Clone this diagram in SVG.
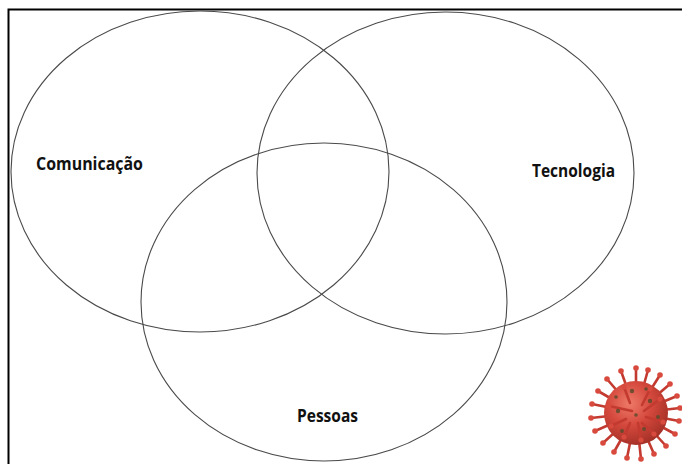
<svg xmlns="http://www.w3.org/2000/svg" width="682" height="464" viewBox="0 0 682 464">
  <style>
    .set { fill: none; stroke: #4a4a4a; stroke-width: 1.1; }
    .lbl { font-family: "Open Sans", "Noto Sans", sans-serif; font-weight: bold; font-size: 17px; fill: #111; }
    .spike { stroke: #c23a30; stroke-width: 2.6; stroke-linecap: round; }
    .tip { fill: #d84a3e; }
    .spot { fill: #5e4a2c; opacity: 0.85; }
  </style>
  <defs>
    <radialGradient id="bodyGrad" cx="0.4" cy="0.35" r="0.7">
      <stop offset="0" stop-color="#ee7a68"/>
      <stop offset="0.5" stop-color="#d4483c"/>
      <stop offset="1" stop-color="#a02e25"/>
    </radialGradient>
  </defs>

  <rect x="0" y="0" width="682" height="464" fill="#ffffff"/>
  <!-- frame, open past the right and bottom edges -->
  <path d="M8.5 470 V9.5 H690" fill="none" stroke="#000" stroke-width="2"/>

  <g id="comunicacao">
    <ellipse class="set" cx="200" cy="171.5" rx="189" ry="160.5"/>
    <text class="lbl" x="36" y="170" textLength="107" lengthAdjust="spacingAndGlyphs">Comunicação</text>
  </g>
  <g id="tecnologia">
    <ellipse class="set" cx="445.5" cy="173" rx="188.5" ry="161"/>
    <text class="lbl" x="532" y="177" textLength="83" lengthAdjust="spacingAndGlyphs">Tecnologia</text>
  </g>
  <g id="pessoas">
    <ellipse class="set" cx="324" cy="302" rx="183" ry="159"/>
    <text class="lbl" x="297" y="421.5" textLength="61" lengthAdjust="spacingAndGlyphs">Pessoas</text>
  </g>

  <!-- virus illustration -->
  <g id="virus" transform="translate(636 413)">
    <g id="spikes">
      <line class="spike" x1="0" y1="0" x2="0" y2="-45"/>
      <line class="spike" x1="0" y1="0" x2="12" y2="-43"/>
      <line class="spike" x1="0" y1="0" x2="24" y2="-38"/>
      <line class="spike" x1="0" y1="0" x2="34" y2="-29"/>
      <line class="spike" x1="0" y1="0" x2="41" y2="-17"/>
      <line class="spike" x1="0" y1="0" x2="44" y2="-5"/>
      <line class="spike" x1="0" y1="0" x2="43" y2="8"/>
      <line class="spike" x1="0" y1="0" x2="39" y2="21"/>
      <line class="spike" x1="0" y1="0" x2="30" y2="33"/>
      <line class="spike" x1="0" y1="0" x2="18" y2="41"/>
      <line class="spike" x1="0" y1="0" x2="5" y2="46"/>
      <line class="spike" x1="0" y1="0" x2="-9" y2="45"/>
      <line class="spike" x1="0" y1="0" x2="-22" y2="39"/>
      <line class="spike" x1="0" y1="0" x2="-33" y2="30"/>
      <line class="spike" x1="0" y1="0" x2="-41" y2="18"/>
      <line class="spike" x1="0" y1="0" x2="-45" y2="5"/>
      <line class="spike" x1="0" y1="0" x2="-44" y2="-9"/>
      <line class="spike" x1="0" y1="0" x2="-38" y2="-22"/>
      <line class="spike" x1="0" y1="0" x2="-29" y2="-34"/>
      <line class="spike" x1="0" y1="0" x2="-15" y2="-42"/>
      <circle class="tip" cx="0" cy="-45" r="2.8"/>
      <circle class="tip" cx="12" cy="-43" r="2.8"/>
      <circle class="tip" cx="24" cy="-38" r="2.8"/>
      <circle class="tip" cx="34" cy="-29" r="2.8"/>
      <circle class="tip" cx="41" cy="-17" r="2.8"/>
      <circle class="tip" cx="44" cy="-5" r="2.8"/>
      <circle class="tip" cx="43" cy="8" r="2.8"/>
      <circle class="tip" cx="39" cy="21" r="2.8"/>
      <circle class="tip" cx="30" cy="33" r="2.8"/>
      <circle class="tip" cx="18" cy="41" r="2.8"/>
      <circle class="tip" cx="5" cy="46" r="2.8"/>
      <circle class="tip" cx="-9" cy="45" r="2.8"/>
      <circle class="tip" cx="-22" cy="39" r="2.8"/>
      <circle class="tip" cx="-33" cy="30" r="2.8"/>
      <circle class="tip" cx="-41" cy="18" r="2.8"/>
      <circle class="tip" cx="-45" cy="5" r="2.8"/>
      <circle class="tip" cx="-44" cy="-9" r="2.8"/>
      <circle class="tip" cx="-38" cy="-22" r="2.8"/>
      <circle class="tip" cx="-29" cy="-34" r="2.8"/>
      <circle class="tip" cx="-15" cy="-42" r="2.8"/>
    </g>
    <circle cx="0" cy="0" r="32" fill="url(#bodyGrad)"/>
    <g id="inner-spikes">
      <line class="spike" x1="-6" y1="-10" x2="-12" y2="-26"/>
      <line class="spike" x1="6" y1="-8" x2="14" y2="-24"/>
      <line class="spike" x1="10" y1="4" x2="27" y2="9"/>
      <line class="spike" x1="-10" y1="6" x2="-25" y2="13"/>
      <line class="spike" x1="2" y1="10" x2="5" y2="27"/>
      <line class="spike" x1="-4" y1="-2" x2="-27" y2="-7"/>
      <line class="spike" x1="8" y1="-2" x2="24" y2="-14"/>
      <line class="spike" x1="6" y1="10" x2="18" y2="21"/>
      <line class="spike" x1="-6" y1="10" x2="-12" y2="24"/>
      <circle class="tip" cx="-12" cy="-26" r="2.6"/>
      <circle class="tip" cx="14" cy="-24" r="2.6"/>
      <circle class="tip" cx="27" cy="9" r="2.6"/>
      <circle class="tip" cx="-25" cy="13" r="2.6"/>
      <circle class="tip" cx="5" cy="27" r="2.6"/>
      <circle class="tip" cx="-27" cy="-7" r="2.6"/>
      <circle class="tip" cx="24" cy="-14" r="2.6"/>
      <circle class="tip" cx="18" cy="21" r="2.6"/>
      <circle class="tip" cx="-12" cy="24" r="2.6"/>
    </g>
    <circle class="spot" cx="-4" cy="-22" r="2.2"/>
    <circle class="spot" cx="14" cy="-12" r="2.2"/>
    <circle class="spot" cx="-18" cy="-2" r="2.2"/>
    <circle class="spot" cx="8" cy="16" r="2"/>
    <circle class="spot" cx="-14" cy="18" r="2"/>
    <circle class="spot" cx="22" cy="4" r="2"/>
    <circle class="spot" cx="0" cy="2" r="1.8"/>
    <circle class="spot" cx="-20" cy="-16" r="1.8"/>
    <circle class="spot" cx="10" cy="-24" r="1.8"/>
  </g>
</svg>
